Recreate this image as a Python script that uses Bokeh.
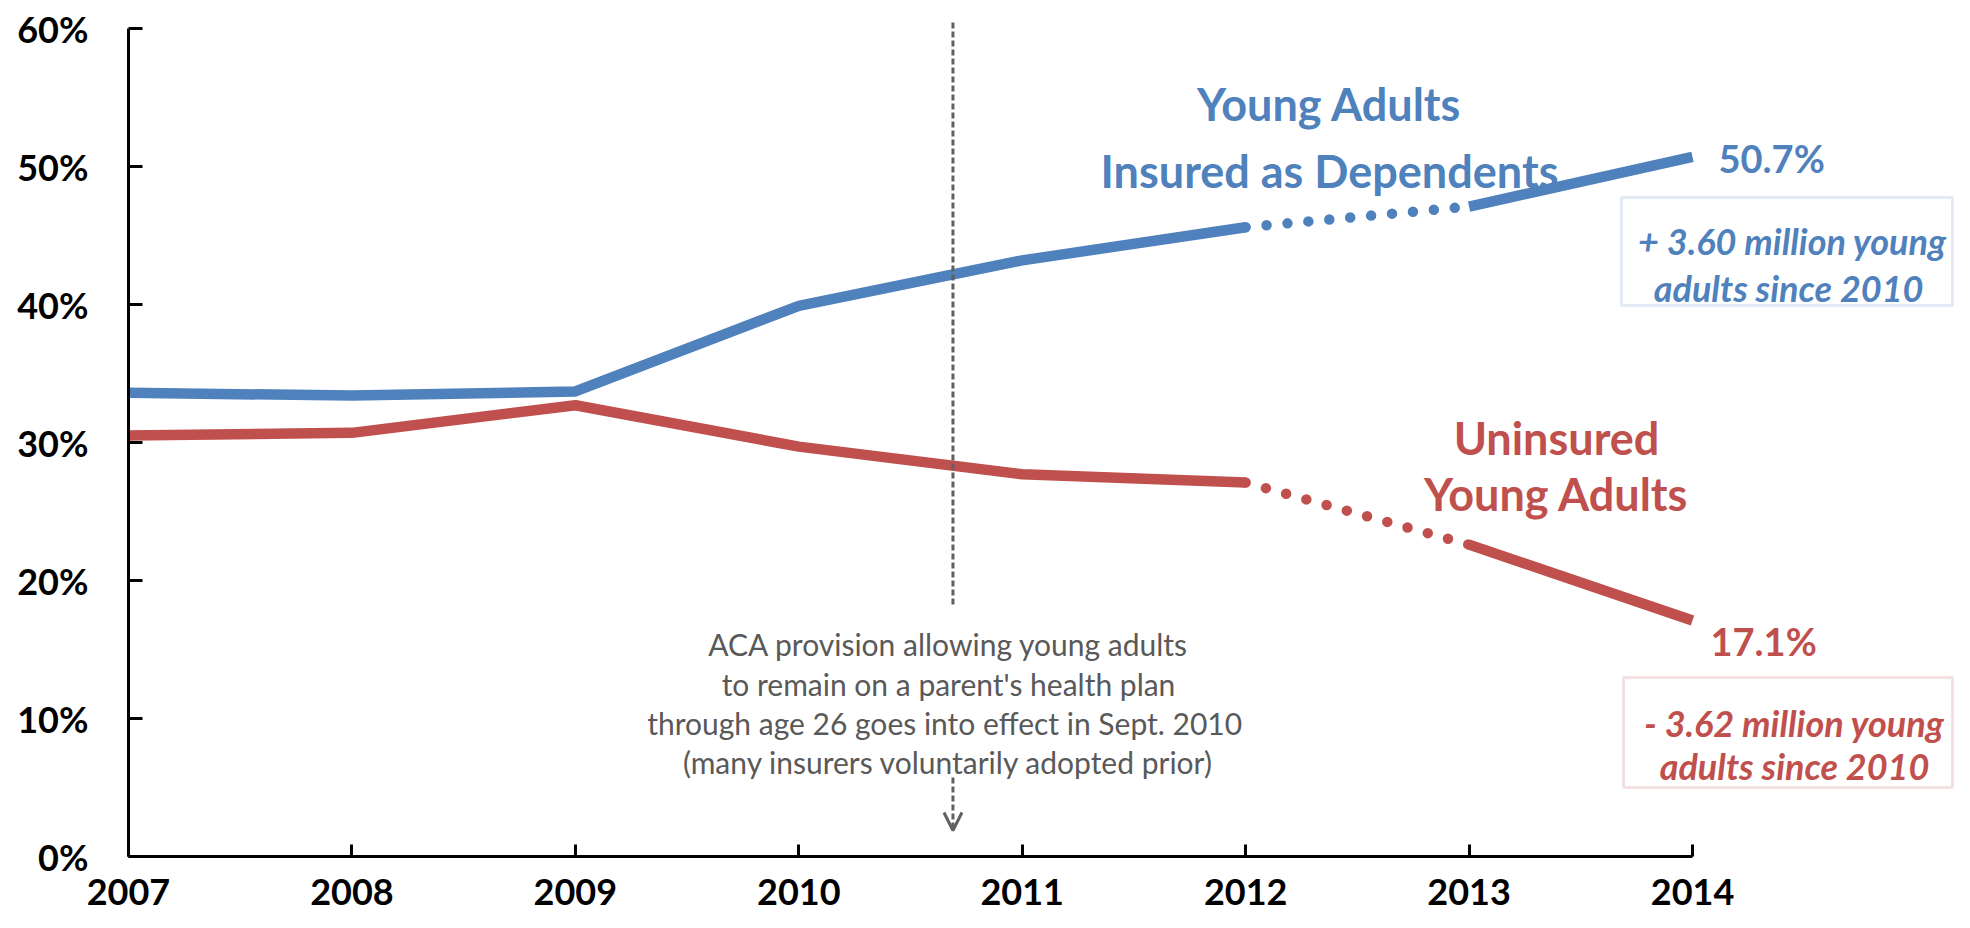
from bokeh.plotting import figure
from bokeh.models import Range1d, FixedTicker, Label, BoxAnnotation, Arrow, OpenHead
from bokeh.embed import file_html
from bokeh.resources import INLINE

# ---- data ----
years = [2007, 2008, 2009, 2010, 2011, 2012, 2013, 2014]
dependents = [33.6, 33.4, 33.7, 39.9, 43.2, 45.6, 47.1, 50.7]
uninsured = [30.5, 30.7, 32.7, 29.7, 27.7, 27.1, 22.6, 17.1]
y_ticks = [0, 10, 20, 30, 40, 50, 60]
y_tick_labels = ["0%", "10%", "20%", "30%", "40%", "50%", "60%"]
x_tick_labels = ["2007", "2008", "2009", "2010", "2011", "2012", "2013", "2014"]
aca_date = 2010.69
dep_title = ["Young Adults", "Insured as Dependents"]
unins_title = ["Uninsured", "Young Adults"]
dep_end = "50.7%"
unins_end = "17.1%"
dep_box = ["+ 3.60 million young", "adults  since 2010"]
unins_box = ["- 3.62 million young", "adults since 2010"]
aca_note = ["ACA provision allowing young adults",
            "to remain on a parent's health plan",
            "through age 26  goes into effect in Sept. 2010",
            "(many insurers voluntarily adopted prior)"]

BLUE = "#4F81BD"
RED = "#C0504D"
FONT = "Lato"

W, H = 1954, 912
LEFT = 128
FRAME_BOTTOM = 856
PX_YEAR = 223.43
PX_PCT = 13.8
frame_w = W - LEFT
frame_h = FRAME_BOTTOM

p = figure(width=W, height=H, output_backend="svg", toolbar_location=None,
           x_range=Range1d(years[0], years[0] + frame_w / PX_YEAR),
           y_range=Range1d(0, frame_h / PX_PCT),
           min_border_left=LEFT, min_border_right=0, min_border_top=0,
           min_border_bottom=H - FRAME_BOTTOM)
p.outline_line_color = None
p.grid.visible = False
p.background_fill_color = "white"


def dx(ref_x):
    return years[0] + (ref_x - LEFT) / PX_YEAR


def dy(ref_y):
    return (FRAME_BOTTOM - ref_y) / PX_PCT


# axes
xa = p.xaxis[0]
xa.ticker = FixedTicker(ticks=years)
xa.major_label_overrides = {y: s for y, s in zip(years, x_tick_labels)}
xa.bounds = (years[0], years[-1])
ya = p.yaxis[0]
ya.ticker = FixedTicker(ticks=y_ticks)
ya.major_label_overrides = {t: s for t, s in zip(y_ticks, y_tick_labels)}
ya.bounds = (y_ticks[0], y_ticks[-1])
for ax in (xa, ya):
    ax.axis_line_width = 3
    ax.axis_line_color = "black"
    ax.major_tick_line_width = 3
    ax.major_tick_line_color = "black"
    ax.major_tick_out = 0
    ax.minor_tick_line_color = None
    ax.major_label_text_font = FONT
    ax.major_label_text_font_style = "bold"
    ax.major_label_text_font_size = "36px"
    ax.major_label_text_color = "black"
xa.major_tick_in = 12
ya.major_tick_in = 14
xa.major_label_text_line_height = 0.75
xa.major_label_standoff = 22
ya.major_label_standoff = 40

# lines: solid, dotted 2012-2013, solid
for vals, col in ((dependents, BLUE), (uninsured, RED)):
    p.line(years[:6], vals[:6], line_color=col, line_width=10.5)
    p.line(years[5:7], vals[5:7], line_color=col, line_width=10.5,
           line_dash="0 21", line_cap="round")
    p.line(years[6:], vals[6:], line_color=col, line_width=10.5)

# ACA dashed marker
GRAY = "#606060"
p.segment(x0=[aca_date], y0=[dy(22)], x1=[aca_date], y1=[dy(605)],
          line_color=GRAY, line_width=3, line_dash="6 3")
p.add_layout(Arrow(x_start=aca_date, y_start=dy(777), x_end=aca_date, y_end=dy(830),
                   line_color=GRAY, line_width=3, line_dash="6 3",
                   end=OpenHead(size=18, line_color=GRAY, line_width=3)))

for txt, base in zip(aca_note, [643, 683, 722, 761]):
    p.add_layout(Label(x=dx(948), y=dy(base), text=txt, text_align="center",
                       text_baseline="alphabetic", text_font=FONT,
                       text_font_size="30px", text_color="#595959"))

# series titles
for txt, base in zip(dep_title, [103, 170]):
    p.add_layout(Label(x=dx(1329), y=dy(base), text=txt, text_align="center",
                       text_baseline="alphabetic", text_font=FONT,
                       text_font_style="bold", text_font_size="45px", text_color=BLUE))
for txt, base in zip(unins_title, [437, 493]):
    p.add_layout(Label(x=dx(1556), y=dy(base), text=txt, text_align="center",
                       text_baseline="alphabetic", text_font=FONT,
                       text_font_style="bold", text_font_size="45px", text_color=RED))

# end values
p.add_layout(Label(x=dx(1718), y=dy(157), text=dep_end, text_align="left",
                   text_baseline="alphabetic", text_font=FONT, text_font_style="bold",
                   text_font_size="38px", text_color=BLUE))
p.add_layout(Label(x=dx(1710), y=dy(640), text=unins_end, text_align="left",
                   text_baseline="alphabetic", text_font=FONT, text_font_style="bold",
                   text_font_size="38px", text_color=RED))

# boxes
p.add_layout(BoxAnnotation(left=dx(1621), right=dx(1952), top=dy(197), bottom=dy(305),
                           fill_color=None, fill_alpha=0, line_color="#9DBBDD", line_width=3))
p.add_layout(BoxAnnotation(left=dx(1623), right=dx(1952), top=dy(677), bottom=dy(787),
                           fill_color=None, fill_alpha=0, line_color="#DC9C9B", line_width=3))
for txt, base in zip(dep_box, [240, 287]):
    p.add_layout(Label(x=dx(1792), y=dy(base), text=txt, text_align="center",
                       text_baseline="alphabetic", text_font=FONT,
                       text_font_style="bold italic", text_font_size="36px", text_color=BLUE))
for txt, base in zip(unins_box, [722, 765]):
    p.add_layout(Label(x=dx(1794), y=dy(base), text=txt, text_align="center",
                       text_baseline="alphabetic", text_font=FONT,
                       text_font_style="bold italic", text_font_size="36px", text_color=RED))

open("out.html", "w").write(file_html(p, INLINE))
